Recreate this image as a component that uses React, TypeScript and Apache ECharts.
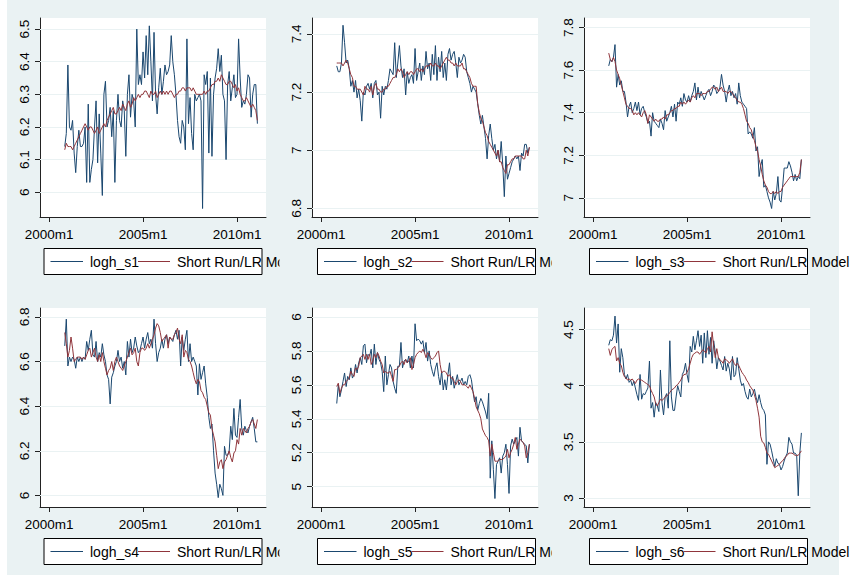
import { useEffect, useRef } from 'react';
import * as echarts from 'echarts';

// months counted from 2000m1 = 0; the series run 2000m11 .. 2011m2
const START_MONTH = 10;
const X_TICKS = [0, 60, 120];
const X_TICK_LABELS = ['2000m1', '2005m1', '2010m1'];
const MODEL_LABEL = 'Short Run/LR Model';
const ACTUAL_LABELS = ['logh_s1', 'logh_s2', 'logh_s3', 'logh_s4', 'logh_s5', 'logh_s6'];

const S1_ACTUAL = [6.14, 6.18,
  6.39, 6.2, 6.19, 6.22, 6.12, 6.06, 6.14, 6.19, 6.14, 6.14, 6.15, 6.2,
  6.03, 6.27, 6.03, 6.07, 6.1, 6.2, 6.28, 6.09, 6.24, 6.12, 5.99, 6.3,
  6.34, 6.2, 6.22, 6.26, 6.17, 6.25, 6.03, 6.22, 6.3, 6.22, 6.2, 6.28,
  6.25, 6.11, 6.3, 6.36, 6.23, 6.3, 6.28, 6.2, 6.5, 6.33, 6.36, 6.33,
  6.43, 6.35, 6.48, 6.36, 6.51, 6.4, 6.28, 6.49, 6.3, 6.24, 6.32, 6.38,
  6.3, 6.34, 6.39, 6.36, 6.37, 6.39, 6.48, 6.4, 6.36, 6.3, 6.22, 6.17,
  6.15, 6.22, 6.2, 6.13, 6.47, 6.21, 6.29, 6.18, 6.13, 6.3, 6.28, 6.29,
  6.3, 6.28, 5.95, 6.36, 6.33, 6.37, 6.12, 6.35, 6.11, 6.3, 6.35, 6.38,
  6.44, 6.37, 6.42, 6.3, 6.28, 6.1, 6.33, 6.37, 6.28, 6.32, 6.36, 6.29,
  6.3, 6.47, 6.35, 6.26, 6.28, 6.27, 6.3, 6.36, 6.35, 6.23, 6.3, 6.33,
  6.33, 6.21];
const S1_MODEL = [6.13, 6.15,
  6.14, 6.14, 6.14, 6.13, 6.14, 6.15, 6.16, 6.17, 6.18, 6.19, 6.2, 6.21,
  6.2, 6.19, 6.2, 6.2, 6.19, 6.18, 6.19, 6.2, 6.18, 6.19, 6.2, 6.21,
  6.2, 6.22, 6.23, 6.24, 6.25, 6.26, 6.24, 6.24, 6.25, 6.26, 6.25, 6.27,
  6.26, 6.25, 6.27, 6.28, 6.26, 6.27, 6.29, 6.28, 6.29, 6.3, 6.29, 6.3,
  6.3, 6.31, 6.31, 6.3, 6.29, 6.31, 6.3, 6.3, 6.31, 6.29, 6.3, 6.31,
  6.3, 6.31, 6.3, 6.31, 6.3, 6.31, 6.31, 6.3, 6.29, 6.3, 6.3, 6.31,
  6.31, 6.32, 6.32, 6.31, 6.32, 6.32, 6.32, 6.31, 6.32, 6.31, 6.3, 6.3,
  6.3, 6.3, 6.3, 6.31, 6.3, 6.31, 6.31, 6.32, 6.33, 6.33, 6.34, 6.34,
  6.35, 6.34, 6.36, 6.35, 6.34, 6.33, 6.33, 6.34, 6.34, 6.33, 6.32, 6.33,
  6.31, 6.32, 6.3, 6.29, 6.28, 6.28, 6.29, 6.28, 6.27, 6.26, 6.27, 6.26,
  6.25, 6.22];

const S2_ACTUAL = [7.29, 7.27,
  7.27, 7.3, 7.43, 7.37, 7.3, 7.31, 7.28, 7.22, 7.24, 7.2, 7.24, 7.18,
  7.21, 7.17, 7.1, 7.2, 7.19, 7.22, 7.23, 7.21, 7.23, 7.18, 7.23, 7.24,
  7.19, 7.2, 7.11, 7.22, 7.19, 7.22, 7.21, 7.24, 7.28, 7.27, 7.26, 7.37,
  7.25, 7.3, 7.36, 7.29, 7.25, 7.28, 7.19, 7.27, 7.23, 7.25, 7.26, 7.23,
  7.35, 7.24, 7.27, 7.3, 7.24, 7.29, 7.26, 7.34, 7.28, 7.3, 7.24, 7.33,
  7.26, 7.36, 7.24, 7.32, 7.27, 7.34, 7.25, 7.3, 7.24, 7.33, 7.35, 7.31,
  7.33, 7.34, 7.3, 7.25, 7.32, 7.3, 7.31, 7.33, 7.32, 7.27, 7.25, 7.23,
  7.2, 7.22, 7.21, 7.2, 7.16, 7.12, 7.09, 7.12, 7.08, 7.04, 6.97, 7.05,
  7.09, 7.04, 7.0, 7.02, 6.97, 7.0, 6.96, 7.03, 6.95, 6.84, 6.98, 6.9,
  6.92, 6.94, 6.96, 6.97, 6.98, 6.97, 6.98, 6.93, 6.99, 6.98, 7.02, 7.02,
  6.99, 7.01];
const S2_MODEL = [7.3, 7.3,
  7.3, 7.3, 7.29, 7.3, 7.31, 7.3, 7.28, 7.26, 7.25, 7.22, 7.22, 7.21,
  7.21, 7.21, 7.2, 7.19, 7.22, 7.21, 7.21, 7.2, 7.22, 7.19, 7.22, 7.23,
  7.21, 7.21, 7.2, 7.2, 7.21, 7.21, 7.22, 7.22, 7.23, 7.24, 7.25, 7.25,
  7.26, 7.28, 7.27, 7.28, 7.27, 7.25, 7.26, 7.27, 7.26, 7.27, 7.27, 7.26,
  7.27, 7.28, 7.28, 7.27, 7.28, 7.27, 7.28, 7.29, 7.29, 7.29, 7.3, 7.29,
  7.29, 7.3, 7.29, 7.29, 7.28, 7.29, 7.3, 7.31, 7.32, 7.31, 7.31, 7.3,
  7.3, 7.29, 7.3, 7.29, 7.29, 7.29, 7.3, 7.28, 7.28, 7.27, 7.26, 7.25,
  7.23, 7.22, 7.22, 7.22, 7.16, 7.13, 7.11, 7.1, 7.08, 7.06, 7.05, 7.03,
  7.02, 7.01, 7.0, 6.99, 6.98, 7.0, 6.96, 6.96, 6.94, 6.93, 6.92, 6.95,
  6.95, 6.96, 6.97, 6.97, 6.98, 6.98, 6.98, 6.98, 6.98, 6.97, 6.97, 7.0,
  6.98, 7.01];

const S3_ACTUAL = [7.62, 7.65,
  7.64, 7.66, 7.72, 7.52, 7.58, 7.53, 7.55, 7.5, 7.5, 7.45, 7.38, 7.43,
  7.45, 7.4, 7.42, 7.45, 7.41, 7.45, 7.39, 7.42, 7.43, 7.4, 7.38, 7.35,
  7.36, 7.29, 7.4, 7.36, 7.35, 7.34, 7.33, 7.37, 7.35, 7.32, 7.41, 7.36,
  7.38, 7.4, 7.43, 7.38, 7.44, 7.36, 7.45, 7.44, 7.47, 7.43, 7.49, 7.46,
  7.45, 7.48, 7.45, 7.48, 7.5, 7.54, 7.46, 7.52, 7.47, 7.5, 7.48, 7.46,
  7.48, 7.5, 7.51, 7.48, 7.5, 7.53, 7.52, 7.49, 7.5, 7.52, 7.58, 7.53,
  7.5, 7.45, 7.5, 7.53, 7.48, 7.5, 7.47, 7.49, 7.44, 7.54, 7.48, 7.45,
  7.44, 7.43, 7.42, 7.3, 7.31, 7.3, 7.28, 7.33, 7.22, 7.24, 7.1, 7.15,
  7.18, 7.05, 7.06, 7.03, 7.0, 6.98, 6.95, 7.03, 6.99, 7.02, 7.1, 6.99,
  6.98, 7.05, 7.14, 7.14, 7.14, 7.17, 7.15, 7.12, 7.08, 7.11, 7.08, 7.1,
  7.09, 7.18];
const S3_MODEL = [7.68, 7.65,
  7.64, 7.66, 7.64, 7.6, 7.58, 7.56, 7.53, 7.5, 7.47, 7.44, 7.43, 7.42,
  7.42, 7.41, 7.39, 7.4, 7.39, 7.4, 7.39, 7.38, 7.4, 7.41, 7.39, 7.35,
  7.39, 7.38, 7.37, 7.36, 7.37, 7.36, 7.36, 7.37, 7.37, 7.38, 7.37, 7.39,
  7.39, 7.4, 7.41, 7.41, 7.42, 7.42, 7.43, 7.43, 7.45, 7.44, 7.45, 7.44,
  7.45, 7.46, 7.45, 7.47, 7.48, 7.47, 7.49, 7.49, 7.49, 7.48, 7.49, 7.49,
  7.49, 7.5, 7.5, 7.51, 7.52, 7.52, 7.51, 7.52, 7.5, 7.51, 7.52, 7.5,
  7.5, 7.5, 7.49, 7.5, 7.5, 7.49, 7.48, 7.47, 7.46, 7.45, 7.45, 7.44,
  7.42, 7.39, 7.36, 7.35, 7.33, 7.32, 7.29, 7.27, 7.24, 7.22, 7.18, 7.15,
  7.11, 7.08, 7.06, 7.05, 7.03, 7.02, 7.02, 7.03, 7.02, 7.03, 7.02, 7.03,
  7.03, 7.05, 7.06, 7.07, 7.08, 7.09, 7.1, 7.1, 7.1, 7.1, 7.1, 7.1,
  7.12, 7.18];

const S4_ACTUAL = [6.67, 6.79,
  6.58, 6.62, 6.6, 6.62, 6.61, 6.57, 6.62, 6.6, 6.62, 6.6, 6.62, 6.61,
  6.69, 6.65, 6.7, 6.74, 6.63, 6.62, 6.69, 6.6, 6.64, 6.62, 6.68, 6.63,
  6.6, 6.54, 6.52, 6.41, 6.53, 6.55, 6.58, 6.6, 6.65, 6.6, 6.62, 6.57,
  6.6, 6.54, 6.69, 6.62, 6.7, 6.64, 6.66, 6.71, 6.67, 6.64, 6.65, 6.68,
  6.71, 6.66, 6.7, 6.73, 6.68, 6.7, 6.66, 6.79, 6.68, 6.6, 6.64, 6.66,
  6.7, 6.66, 6.7, 6.72, 6.68, 6.71, 6.7, 6.69, 6.72, 6.74, 6.7, 6.74,
  6.58, 6.71, 6.65, 6.7, 6.74, 6.6, 6.68, 6.6, 6.62, 6.6, 6.58, 6.45,
  6.59, 6.52, 6.55, 6.58, 6.5, 6.44, 6.35, 6.3, 6.32, 6.2, 6.1, 6.05,
  5.99, 6.05, 6.03, 6.0, 6.22, 6.18, 6.18, 6.2, 6.31, 6.25, 6.39, 6.27,
  6.26, 6.35, 6.43, 6.3, 6.27, 6.31, 6.29, 6.28, 6.31, 6.33, 6.35, 6.3,
  6.24, 6.24];
const S4_MODEL = [6.73, 6.68,
  6.62, 6.65, 6.71, 6.66, 6.6, 6.61, 6.62, 6.62, 6.62, 6.61, 6.62, 6.61,
  6.63, 6.65, 6.66, 6.62, 6.64, 6.66, 6.62, 6.6, 6.63, 6.6, 6.64, 6.6,
  6.57, 6.54, 6.56, 6.57, 6.6, 6.56, 6.6, 6.62, 6.6, 6.58, 6.57, 6.56,
  6.58, 6.6, 6.62, 6.64, 6.66, 6.63, 6.64, 6.66, 6.6, 6.58, 6.64, 6.66,
  6.66, 6.65, 6.66, 6.68, 6.66, 6.68, 6.7, 6.72, 6.75, 6.77, 6.76, 6.73,
  6.69, 6.7, 6.71, 6.72, 6.66, 6.71, 6.7, 6.7, 6.72, 6.73, 6.75, 6.7,
  6.68, 6.72, 6.62, 6.65, 6.64, 6.61, 6.6, 6.58, 6.55, 6.52, 6.5, 6.52,
  6.51, 6.47, 6.46, 6.44, 6.43, 6.4, 6.37, 6.36, 6.3, 6.27, 6.24, 6.18,
  6.12, 6.15, 6.16, 6.12, 6.15, 6.16, 6.18, 6.2, 6.17, 6.15, 6.19, 6.2,
  6.25, 6.23, 6.3, 6.27, 6.3, 6.29, 6.28, 6.3, 6.31, 6.33, 6.34, 6.32,
  6.3, 6.34];

const S5_ACTUAL = [5.49, 5.6,
  5.53, 5.57, 5.62, 5.67, 5.59, 5.65, 5.63, 5.7, 5.64, 5.66, 5.72, 5.67,
  5.73, 5.76, 5.72, 5.83, 5.84, 5.73, 5.78, 5.77, 5.81, 5.7, 5.84, 5.72,
  5.79, 5.75, 5.73, 5.68, 5.56, 5.77, 5.6, 5.66, 5.72, 5.7, 5.62, 5.58,
  5.55, 5.71, 5.71, 5.85, 5.7, 5.74, 5.75, 5.73, 5.77, 5.7, 5.77, 5.7,
  5.96, 5.86, 5.87, 5.86, 5.84, 5.86, 5.79, 5.85, 5.74, 5.8, 5.72, 5.68,
  5.65, 5.7, 5.73, 5.65, 5.6, 5.68, 5.57, 5.63, 5.57, 5.66, 5.73, 5.6,
  5.65, 5.58, 5.62, 5.66, 5.6, 5.62, 5.64, 5.6, 5.62, 5.6, 5.65, 5.66,
  5.63, 5.56, 5.5, 5.53, 5.45, 5.49, 5.52, 5.5, 5.47, 5.44, 5.4, 5.55,
  5.05, 5.27, 5.1, 4.93, 5.13, 5.15, 5.17, 5.08, 5.18, 5.2, 5.25, 5.13,
  4.96, 5.24, 5.28, 5.25, 5.27, 5.29, 5.18, 5.35, 5.27, 5.26, 5.25, 5.24,
  5.14, 5.25];
const S5_MODEL = [5.59, 5.61,
  5.55, 5.58, 5.6, 5.6, 5.62, 5.63, 5.64, 5.68, 5.66, 5.65, 5.7, 5.69,
  5.71, 5.76, 5.77, 5.78, 5.75, 5.78, 5.75, 5.78, 5.72, 5.74, 5.78, 5.76,
  5.79, 5.77, 5.74, 5.72, 5.67, 5.68, 5.67, 5.67, 5.68, 5.65, 5.62, 5.69,
  5.69, 5.7, 5.71, 5.73, 5.74, 5.72, 5.75, 5.73, 5.74, 5.76, 5.69, 5.72,
  5.76, 5.78, 5.79, 5.8, 5.79, 5.81, 5.79, 5.76, 5.79, 5.78, 5.76, 5.75,
  5.76, 5.77, 5.79, 5.8, 5.72, 5.67, 5.68, 5.68, 5.67, 5.65, 5.66, 5.64,
  5.64, 5.62, 5.6, 5.62, 5.63, 5.62, 5.6, 5.6, 5.6, 5.59, 5.58, 5.6,
  5.58, 5.56, 5.52, 5.47, 5.45, 5.43, 5.4, 5.34, 5.32, 5.3, 5.29, 5.27,
  5.18, 5.25, 5.2, 5.15, 5.15, 5.15, 5.16, 5.16, 5.16, 5.17, 5.18, 5.22,
  5.17, 5.2, 5.22, 5.25, 5.29, 5.22, 5.25, 5.28, 5.27, 5.26, 5.24, 5.17,
  5.2, 5.25];

const S6_ACTUAL = [4.36, 4.41,
  4.4, 4.45, 4.62, 4.38, 4.55, 4.12, 4.33, 4.25, 4.1, 4.06, 4.1, 4.03,
  4.05, 4.0, 4.04, 3.98, 3.92, 3.87, 4.1, 3.88, 3.93, 3.92, 3.95, 3.98,
  4.22, 3.8, 3.85, 3.72, 3.85, 3.82, 3.77, 4.14, 3.85, 3.74, 3.9, 3.93,
  3.8, 4.4, 3.9, 3.78, 3.78, 3.9, 4.0, 3.95, 3.9, 4.1, 4.13, 4.2,
  4.1, 4.03, 4.35, 4.3, 4.44, 4.32, 4.4, 4.49, 4.35, 4.45, 4.2, 4.47,
  4.25, 4.49, 4.28, 4.43, 4.2, 4.4, 4.3, 4.15, 4.25, 4.22, 4.18, 4.14,
  4.26, 4.13, 4.2, 4.15, 4.05, 4.26, 4.08, 4.1, 4.25, 4.15, 4.05, 4.0,
  4.02, 3.95, 3.9, 3.88, 3.97, 3.9, 3.93, 3.97, 3.9, 3.85, 3.92, 3.85,
  3.8, 3.78, 3.74, 3.3, 3.5, 3.48, 3.42, 3.35, 3.28, 3.35, 3.31, 3.3,
  3.25, 3.28, 3.33, 3.37, 3.4, 3.54, 3.5, 3.48, 3.4, 3.4, 3.38, 3.02,
  3.4, 3.58];
const S6_MODEL = [4.33, 4.27,
  4.32, 4.34, 4.35, 4.22, 4.25, 4.2, 4.18, 4.12, 4.08, 4.07, 4.05, 4.06,
  4.05, 4.06, 4.04, 4.02, 4.05, 4.06, 4.05, 4.05, 4.04, 4.03, 4.02, 4.01,
  4.0, 3.96, 3.93, 3.9, 3.84, 3.82, 3.85, 3.88, 3.87, 3.88, 3.9, 3.91,
  3.92, 3.94, 3.96, 3.97, 3.98, 4.0, 4.01, 4.03, 4.05, 4.08, 4.1, 4.1,
  4.12, 4.15, 4.2, 4.25, 4.28, 4.29, 4.3, 4.3, 4.28, 4.3, 4.32, 4.31,
  4.29, 4.33, 4.35, 4.3, 4.48, 4.35, 4.25, 4.33, 4.25, 4.23, 4.22, 4.2,
  4.24, 4.23, 4.22, 4.2, 4.22, 4.24, 4.2, 4.18, 4.2, 4.18, 4.15, 4.12,
  4.1, 4.08, 4.05, 4.03, 4.0, 3.98, 3.96, 3.92, 3.87, 3.8, 3.72, 3.55,
  3.5, 3.49, 3.45, 3.4, 3.39, 3.36, 3.33, 3.3, 3.27, 3.28, 3.29, 3.3,
  3.32, 3.33, 3.35, 3.37, 3.38, 3.4, 3.4, 3.4, 3.39, 3.38, 3.38, 3.38,
  3.4, 3.42];

const Y_TICKS_1 = [6, 6.1, 6.2, 6.3, 6.4, 6.5];
const Y_TICKS_2 = [6.8, 7, 7.2, 7.4];
const Y_TICKS_3 = [7, 7.2, 7.4, 7.6, 7.8];
const Y_TICKS_4 = [6, 6.2, 6.4, 6.6, 6.8];
const Y_TICKS_5 = [5, 5.2, 5.4, 5.6, 5.8, 6];
const Y_TICKS_6 = [3, 3.5, 4, 4.5];

// ---- layout & style ----
const NAVY = '#1a476f';
const MAROON = '#90353b';
const BG = '#eaf2f3';
const AXIS = '#222';
const FONT = '"Liberation Sans", Arial, sans-serif';
const COL_LEFT = [40, 312, 584];
const ROW_TOP = [18, 308];
const GRID_W = 226;
const GRID_H = 199;
const X_MIN = -5.8;
const X_MAX = 138.5;
const LEGEND_LEFT = [44, 317.5, 589.5];
const LEGEND_TOP = [248.5, 538.5];
const LEGEND_W = 218;
const LEGEND_H = 26;

const PANELS = [
  { actual: S1_ACTUAL, model: S1_MODEL, ticks: Y_TICKS_1, min: 5.924, max: 6.534 },
  { actual: S2_ACTUAL, model: S2_MODEL, ticks: Y_TICKS_2, min: 6.77, max: 7.455 },
  { actual: S3_ACTUAL, model: S3_MODEL, ticks: Y_TICKS_3, min: 6.91, max: 7.845 },
  { actual: S4_ACTUAL, model: S4_MODEL, ticks: Y_TICKS_4, min: 5.948, max: 6.84 },
  { actual: S5_ACTUAL, model: S5_MODEL, ticks: Y_TICKS_5, min: 4.88, max: 6.053 },
  { actual: S6_ACTUAL, model: S6_MODEL, ticks: Y_TICKS_6, min: 2.92, max: 4.692 },
];

function buildOption() {
  const grid: any[] = [];
  const xAxis: any[] = [];
  const yAxis: any[] = [];
  const series: any[] = [];
  const graphic: any[] = [];

  PANELS.forEach((p, i) => {
    const col = i % 3;
    const row = Math.floor(i / 3);
    grid.push({
      left: COL_LEFT[col], top: ROW_TOP[row], width: GRID_W, height: GRID_H,
      show: true, backgroundColor: '#fff', borderWidth: 0, containLabel: false,
    });
    xAxis.push({
      gridIndex: i, type: 'value', min: X_MIN, max: X_MAX,
      axisLine: { show: true, onZero: false, lineStyle: { color: AXIS, width: 1 } },
      axisTick: { show: true, length: 5, customValues: X_TICKS, lineStyle: { color: AXIS, width: 1 } },
      axisLabel: {
        show: true, customValues: X_TICKS, margin: 10, color: '#000', fontSize: 13.5, fontFamily: FONT,
        formatter: (v: number) => X_TICK_LABELS[X_TICKS.indexOf(Math.round(v))] ?? '',
      },
      splitLine: { show: false },
    });
    yAxis.push({
      gridIndex: i, type: 'value', min: p.min, max: p.max,
      axisLine: { show: true, onZero: false, lineStyle: { color: AXIS, width: 1 } },
      axisTick: { show: true, length: 5, customValues: p.ticks, lineStyle: { color: AXIS, width: 1 } },
      axisLabel: {
        show: true, customValues: p.ticks, margin: 9, rotate: 90, color: '#000', fontSize: 13.5, fontFamily: FONT,
        formatter: (v: number) => String(+Number(v).toFixed(2)),
      },
      splitLine: { show: false },
    });
    series.push({
      type: 'line', name: ACTUAL_LABELS[i], xAxisIndex: i, yAxisIndex: i,
      data: p.actual.map((v, k) => [START_MONTH + k, v]),
      showSymbol: false, symbol: 'none', silent: true, z: 3,
      lineStyle: { color: NAVY, width: 1 }, itemStyle: { color: NAVY },
      markLine: {
        silent: true, symbol: ['none', 'none'], z: 1, animation: false,
        label: { show: false },
        lineStyle: { color: BG, width: 1, type: 'solid' },
        emphasis: { disabled: true },
        data: p.ticks.map((t) => ({ yAxis: t })),
      },
    });
    series.push({
      type: 'line', name: MODEL_LABEL, xAxisIndex: i, yAxisIndex: i,
      data: p.model.map((v, k) => [START_MONTH + k, v]),
      showSymbol: false, symbol: 'none', silent: true, z: 4,
      lineStyle: { color: MAROON, width: 1 }, itemStyle: { color: MAROON },
    });

    const L = LEGEND_LEFT[col];
    const T = LEGEND_TOP[row];
    const cy = T + LEGEND_H / 2;
    graphic.push(
      { type: 'rect', z: 10, shape: { x: L, y: T, width: LEGEND_W, height: LEGEND_H }, style: { fill: '#fff', stroke: '#000', lineWidth: 1 } },
      { type: 'line', z: 11, shape: { x1: L + 6.5, y1: cy, x2: L + 39, y2: cy }, style: { stroke: NAVY, lineWidth: 1 } },
      { type: 'text', z: 11, x: L + 46, y: cy, style: { text: ACTUAL_LABELS[i], fill: '#000', fontSize: 14, fontFamily: FONT, verticalAlign: 'middle' } },
      { type: 'line', z: 11, shape: { x1: L + 94, y1: cy, x2: L + 126, y2: cy }, style: { stroke: MAROON, lineWidth: 1 } },
      { type: 'text', z: 11, x: L + 133, y: cy, style: { text: MODEL_LABEL, fill: '#000', fontSize: 14, fontFamily: FONT, verticalAlign: 'middle' } },
    );
  });

  // the legend text of the first two columns is cut at the edge of its panel
  [279.5, 551.7].forEach((cx) => {
    LEGEND_TOP.forEach((T) => {
      graphic.push({ type: 'rect', z: 20, shape: { x: cx, y: T + 1, width: 30, height: LEGEND_H - 2 }, style: { fill: BG } });
    });
  });

  return { animation: false, grid, xAxis, yAxis, series, graphic };
}

export default function App() {
  const ref = useRef<HTMLDivElement>(null);
  useEffect(() => {
    const chart = echarts.init(ref.current!, null, { renderer: 'svg', width: 856, height: 575 });
    chart.setOption(buildOption());
    return () => chart.dispose();
  }, []);
  return (
    <div style={{ position: 'fixed', left: 0, top: 0, width: 856, height: 575, background: '#fff', overflow: 'hidden' }}>
      <div style={{ position: 'absolute', left: 7, top: 0, width: 832, height: 575, background: BG }} />
      <div ref={ref} style={{ position: 'absolute', left: 0, top: 0, width: 856, height: 575 }} />
    </div>
  );
}
